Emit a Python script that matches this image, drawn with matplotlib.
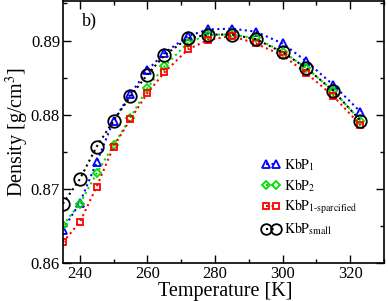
import matplotlib
matplotlib.use('Agg')
import matplotlib.pyplot as plt
from matplotlib.ticker import MultipleLocator

plt.rcParams['font.family'] = ['Liberation Serif', 'DejaVu Serif']
plt.rcParams['mathtext.fontset'] = 'stix'

# === DATA ===
temps = [235, 240, 245, 250, 255, 260, 265, 272, 278, 285, 292, 300, 307, 315, 323]
kbp1 = [0.8645, 0.8681, 0.8736, 0.8792, 0.8828, 0.8860, 0.8883, 0.8906, 0.8915,
        0.8916, 0.8912, 0.8896, 0.8872, 0.8840, 0.8804]
kbp2 = [0.8651, 0.8680, 0.8721, 0.8759, 0.8796, 0.8836, 0.8865, 0.8897, 0.8908,
        0.8908, 0.8903, 0.8885, 0.8863, 0.8832, 0.8792]
kbp1_sparse = [0.8628, 0.8655, 0.8703, 0.8757, 0.8794, 0.8829, 0.8857, 0.8888, 0.8901,
               0.8906, 0.8896, 0.8880, 0.8856, 0.8825, 0.8786]
kbp_small = [0.8680, 0.8713, 0.8757, 0.8792, 0.8825, 0.8854, 0.8880, 0.8903, 0.8908,
             0.8908, 0.8902, 0.8884, 0.8863, 0.8832, 0.8792]

series = [
    (kbp1, 'blue', '^', 6, r'$\mathrm{KbP}_{1}$'),
    (kbp2, '#00e000', 'D', 4.5, r'$\mathrm{KbP}_{2}$'),
    (kbp1_sparse, 'red', 's', 5, r'$\mathrm{KbP}_{\mathrm{1\text{-}sparcified}}$'),
    (kbp_small, 'black', 'o', 9, r'$\mathrm{KbP}_{\mathrm{small}}$'),
]

fig = plt.figure(figsize=(3.88, 3.01), dpi=100)
ax = fig.add_axes([0.162, 0.126, 0.828, 0.870])

for vals, col, mk, ms, lab in series:
    ax.plot(temps, vals, linestyle=':', color=col, linewidth=1.5,
            marker=mk, markersize=ms, markerfacecolor='none',
            markeredgecolor=col, markeredgewidth=1.3, label=lab)

ax.set_xlim(235, 330)
ax.set_ylim(0.86, 0.8953)
ax.xaxis.set_major_locator(MultipleLocator(20))
ax.xaxis.set_minor_locator(MultipleLocator(10))
ax.yaxis.set_major_locator(MultipleLocator(0.01))
ax.yaxis.set_minor_locator(MultipleLocator(0.005))
ax.tick_params(which='both', direction='in', top=True, right=True, labelsize=12)
ax.tick_params(which='major', length=6, width=1, pad=2)
ax.tick_params(which='minor', length=3, width=1)
for s in ax.spines.values():
    s.set_linewidth(1.2)

ax.set_xlabel('Temperature [K]', fontsize=14.5)
ax.set_ylabel(r'Density [g/cm$^3$]', fontsize=14.5)
ax.xaxis.set_label_coords(0.505, -0.074)
ax.yaxis.set_label_coords(-0.098, 0.5)
ax.text(0.058, 0.905, 'b)', transform=ax.transAxes, fontsize=13)

ax.legend(loc='upper left', bbox_to_anchor=(0.612, 0.42), numpoints=2, frameon=False,
          fontsize=10, handlelength=1.3, handletextpad=0.3, labelspacing=0.3,
          borderaxespad=0, borderpad=0.2, markerscale=0.85)

fig.savefig('out.png', dpi=100)
